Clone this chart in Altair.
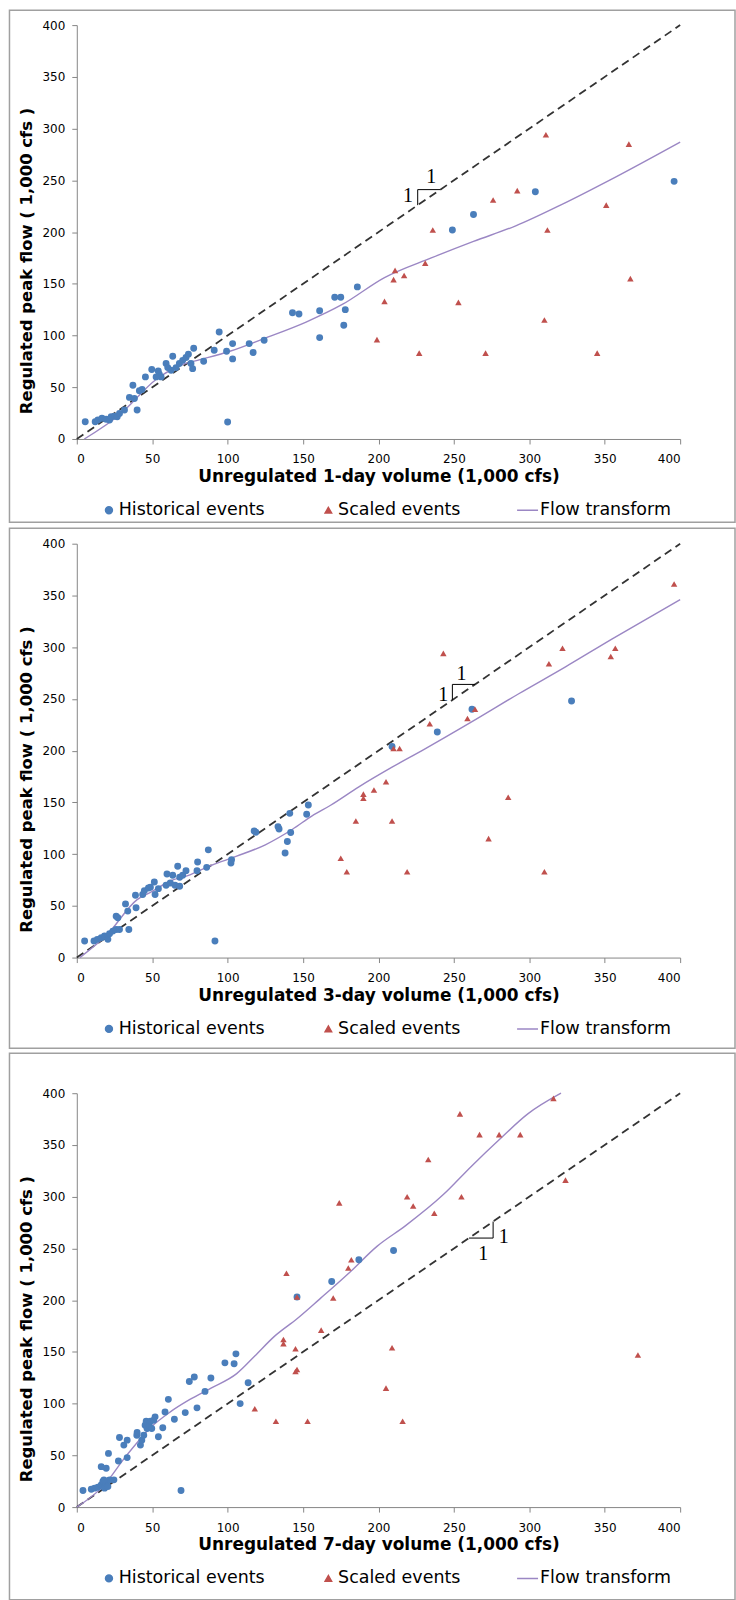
import altair as alt
import pandas as pd

SERIES = ["Historical events", "Scaled events", "Flow transform"]
BLUE, RED, PURPLE = "#4a7ebb", "#c0504d", "#9b87c4"

# ---------------- Panel 1 : 1-day volume ----------------
h1_x = [5.6, 12.2, 14, 16.7, 19.5, 21.7, 22.8, 25, 26.8, 28.3, 31.6, 34.9, 37.2, 38.2, 40, 41.5, 43.3, 45.5, 49.7, 54,
        54.7, 55.9, 52.6, 59.2, 62.5, 63.6, 60.3, 65.8, 68, 70.2, 72.4, 74, 75.7, 76.8, 77.5, 84.1, 91.1, 94.4, 99.3, 100,
        103.3, 103.3, 114.3, 116.9, 124.2, 143, 147.3, 161, 161, 171, 175, 178, 177, 186, 249, 263, 304, 396]
h1_y = [16.7, 16.7, 18.3, 20, 19, 18.3, 21.5, 22, 21.5, 24.7, 28, 40.2, 52, 39.2, 28, 46.6, 47.9, 60, 67.2, 65.8,
        62.7, 60, 60, 73, 66.5, 80, 69, 69, 73, 76, 78.7, 82, 73, 68, 87.7, 75.2, 85.8, 103.4, 84.8, 16.4,
        92.2, 77.4, 92.2, 83.6, 95.4, 122, 120.8, 124, 98, 137, 137, 125, 110, 147, 202, 217, 239, 249]
s1_x = [311, 366, 276, 292, 351, 236, 312, 231, 211, 210, 217, 204, 253, 367, 310, 199, 227, 271, 345]
s1_y = [294, 285, 231, 240, 226, 202, 202, 170, 163, 154, 158, 133, 132, 155, 115, 96, 83, 83, 83]
f1_x = [5, 28, 53, 70, 80, 102, 124, 152, 176, 204, 235, 263, 291, 322, 353, 400]
f1_y = [0, 23, 58, 72, 76, 85, 97, 113, 130, 156, 175, 191, 206, 227, 250, 287]
m1_x = [226, 226, 241]
m1_y = [226, 241, 241]
l1_x = [219.5, 235]
l1_y = [235, 253]

# ---------------- Panel 2 : 3-day volume ----------------
h2_x = [5.2, 11.4, 13.6, 16.2, 18.4, 20.6, 21.7, 23.9, 26.1, 28.3, 26.1, 27.2, 34.5, 32.3, 33.8, 39.3, 38.9, 43.7, 44.8, 47.5,
        48.8, 51.4, 51.9, 54.1, 59.2, 59.8, 62, 63.6, 65.1, 66.9, 68.2, 68.2, 70.2, 72.4, 79.7, 80.1, 86.1, 87.2, 91.6, 102.6,
        102.2, 117.6, 118.7, 133.4, 134.1, 138.1, 139.6, 141.2, 141.8, 152.4, 153.5, 209, 239, 262, 328]
h2_y = [16, 16, 17.6, 19.2, 20.8, 17.6, 23, 25.6, 27.2, 27.2, 40, 38.5, 27.2, 51.9, 44.9, 48.1, 60.3, 60.9, 64.7, 67.3,
        68, 73.1, 60.9, 66.6, 69.9, 80.8, 72.1, 79.5, 69.9, 88.2, 77.6, 68.9, 79.5, 83.9, 83.9, 92.3, 87.2, 104.1, 16, 94.5,
        91.3, 122.4, 121.2, 126.6, 124.3, 101, 112.2, 139.4, 120.9, 138.5, 147.4, 204, 218, 240, 248]
s2_x = [396, 322, 357, 354, 313, 243, 234, 259, 264, 210, 214, 205, 197, 190, 190, 185, 209, 175, 179, 219, 286, 273, 310]
s2_y = [361, 299, 299, 291, 284, 294, 226, 231, 240, 202, 202, 170, 162, 158, 154, 132, 132, 96, 83, 83, 155, 115, 83]
f2_x = [2, 20, 40, 50, 62, 75, 89, 106, 125, 143, 156, 168, 187, 209, 230, 262, 293, 324, 355, 400]
f2_y = [0, 22, 56, 64, 74, 80, 89, 98, 109, 124, 137, 147, 165, 184, 201, 228, 255, 281, 308, 346]
m2_x = [249, 249, 264]
m2_y = [249, 264, 264]
l2_x = [243, 255]
l2_y = [254, 274]

# ---------------- Panel 3 : 7-day volume ----------------
h3_x = [4.1, 9.6, 11.8, 14, 16.2, 17.3, 18.4, 19.5, 20.6, 21.7, 18, 24.6, 16.2, 19.5, 21, 27.6, 33.4, 28.3, 31.2, 33.4,
        39.8, 40, 42.2, 43.1, 44.4, 45.3, 46.6, 46, 48.1, 48.8, 49.7, 51, 51.9, 54.1, 57, 58.5, 60.7, 64.7, 69.1, 71.9,
        74.6, 77.9, 79.7, 85, 88.9, 98.2, 104.3, 105.5, 108.3, 113.6, 146, 169, 187, 210]
h3_y = [16, 17.3, 18.3, 19.2, 21.4, 24.7, 18.3, 23.1, 19.9, 26.3, 26.3, 26.3, 39.1, 37.5, 51.9, 44.5, 47.8, 67.3, 59.9, 64.7,
        69.5, 72.1, 59.9, 64.7, 69.5, 79.1, 76, 83, 78.6, 83, 76, 83.9, 87.2, 68, 76.6, 92, 104.1, 84.9, 16, 91.3,
        121.4, 125.7, 95.9, 111.8, 124.7, 139.4, 138.5, 148.1, 100, 120.2, 203, 218, 239, 248]
s3_x = [316, 254, 267, 280, 294, 233, 219, 255, 223, 237, 174, 324, 139, 182, 180, 146, 170, 162, 137, 137,
        145, 146, 145, 209, 118, 205, 132, 153, 216, 372]
s3_y = [395, 380, 360, 360, 360, 336, 300, 300, 291, 284, 294, 316, 226, 239, 231, 203, 202, 171, 162, 158,
        153, 133, 131, 154, 95, 115, 83, 83, 83, 147]
f3_x = [0, 18, 32, 49, 62, 75, 89, 106, 118, 131, 146, 161, 181, 199, 218, 243, 262, 280, 299, 321]
f3_y = [0, 21, 48, 77, 92, 104, 115, 129, 146, 165, 182, 201, 227, 252, 272, 302, 330, 355, 380, 400]
m3_x = [260, 276, 276]
m3_y = [260, 260, 276]
l3_x = [269.5, 283]
l3_y = [245, 261]

TICKS = list(range(0, 401, 50))
W, H = 605, 415


def panel(hx, hy, sx, sy, fx, fy, mx, my, lx, ly, xtitle, top_off, bottom_off):
    pts = pd.DataFrame({
        "x": hx + sx, "y": hy + sy,
        "series": [SERIES[0]] * len(hx) + [SERIES[1]] * len(sx),
    })
    flow = pd.DataFrame({"x": fx, "y": fy, "series": [SERIES[2]] * len(fx)})
    ident = pd.DataFrame({"x": [0, 400], "y": [0, 400]})
    mark = pd.DataFrame({"x": mx, "y": my, "o": list(range(len(mx)))})
    labs = pd.DataFrame({"x": lx, "y": ly, "t": ["1", "1"]})

    xs = alt.Scale(domain=[0, 400], nice=False)
    ys = alt.Scale(domain=[0, 400], nice=False)
    X = alt.X("x:Q", scale=xs, axis=alt.Axis(values=TICKS, title=xtitle))
    Y = alt.Y("y:Q", scale=ys, axis=alt.Axis(values=TICKS, title="Regulated peak flow ( 1,000 cfs )", titleY=236))

    leg = alt.Legend(title=None, orient="none", legendX=23.5, legendY=H + 61, direction="horizontal",
                     columnPadding=55, labelFontSize=17.5, labelFont="DejaVu Sans", labelColor="#000",
                     labelOffset=1, symbolStrokeWidth=1.5, clipHeight=21)

    border = alt.Chart(pd.DataFrame({"a": [0]})).mark_rect(
        fillOpacity=0, stroke="#a0a0a0", strokeWidth=1.5
    ).encode(x=alt.value(-67.5), x2=alt.value(W + 55), y=alt.value(-top_off), y2=alt.value(H + bottom_off))

    idline = alt.Chart(ident).mark_line(color="#333333", strokeWidth=1.8, strokeDash=[8, 5]).encode(x=X, y=Y)

    flowline = alt.Chart(flow).mark_line(strokeWidth=1.4, interpolate="monotone").encode(
        x=X, y=Y,
        stroke=alt.Stroke("series:N", scale=alt.Scale(domain=SERIES, range=[BLUE, RED, PURPLE]), legend=leg),
    )

    points = alt.Chart(pts).mark_point(filled=True, opacity=1).encode(
        x=X, y=Y,
        fill=alt.Fill("series:N", scale=alt.Scale(domain=SERIES, range=[BLUE, RED, "transparent"]), legend=leg),
        shape=alt.Shape("series:N", scale=alt.Scale(domain=SERIES, range=["circle", "triangle-up", "stroke"]), legend=leg),
        size=alt.Size("series:N", scale=alt.Scale(type="ordinal", domain=SERIES, range=[48, 42, 441]), legend=leg),
    )

    slope = alt.Chart(mark).mark_line(color="#000", strokeWidth=1).encode(x=X, y=Y, order="o:Q")
    slope_txt = alt.Chart(labs).mark_text(font="Liberation Serif", fontSize=20, color="#000",
                                          align="center", baseline="middle").encode(x=X, y=Y, text="t:N")

    return alt.layer(border, idline, flowline, points, slope, slope_txt).properties(width=W, height=H)


p1 = panel(h1_x, h1_y, s1_x, s1_y, f1_x, f1_y, m1_x, m1_y, l1_x, l1_y,
           "Unregulated 1-day volume (1,000 cfs)", 15, 83.5)
p2 = panel(h2_x, h2_y, s2_x, s2_y, f2_x, f2_y, m2_x, m2_y, l2_x, l2_y,
           "Unregulated 3-day volume (1,000 cfs)", 15.5, 91)
p3 = panel(h3_x, h3_y, s3_x, s3_y, f3_x, f3_y, m3_x, m3_y, l3_x, l3_y,
           "Unregulated 7-day volume (1,000 cfs)", 40, 93)

chart = alt.vconcat(p1, p2, p3, spacing=3).resolve_scale(
    fill="independent", shape="independent", size="independent", stroke="independent"
).resolve_legend(
    fill="independent", shape="independent", size="independent", stroke="independent"
).properties(
    padding={"left": 8, "top": 7, "right": 0, "bottom": 0}
).configure_view(strokeWidth=0).configure_axis(
    grid=False, domainColor="#868686", tickColor="#868686", tickSize=5,
    labelFont="DejaVu Sans", labelFontSize=12, labelColor="#000",
    titleFont="DejaVu Sans", titleFontWeight="bold", titleColor="#000",
).configure_axisX(
    labelPadding=10, titleFontSize=17, titlePadding=4
).configure_axisY(
    labelPadding=7, titleFontSize=16.5, titlePadding=8
)

chart.save("out.html", embed_options={"renderer": "svg", "actions": False})
